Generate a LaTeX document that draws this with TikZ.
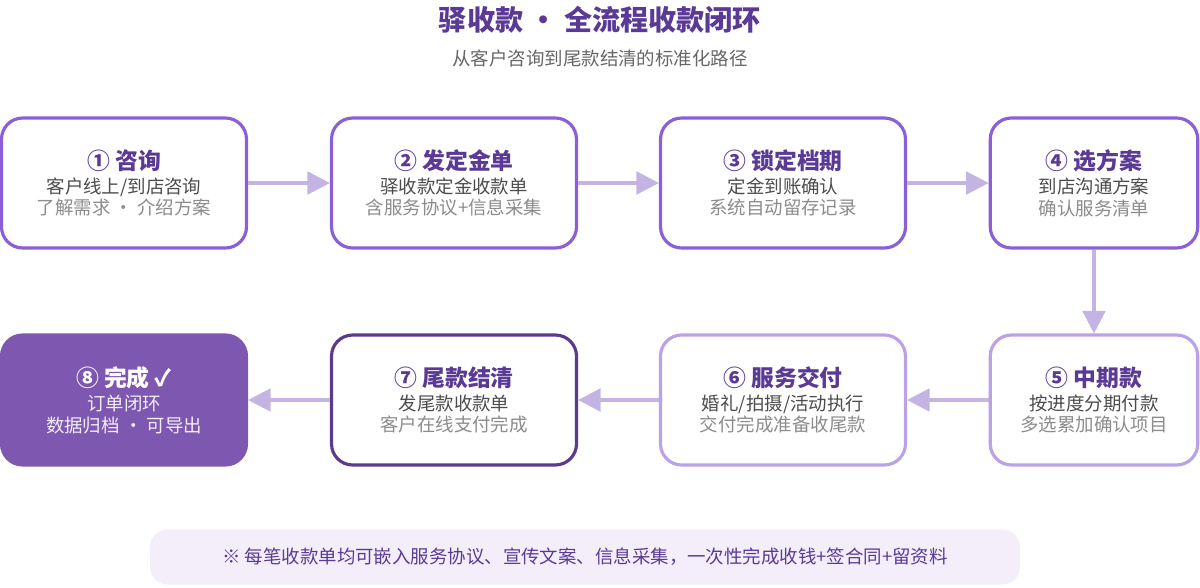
\documentclass[tikz,border=0pt]{standalone}
\usepackage{fontspec}
\setmainfont{Noto Sans CJK SC}
\usetikzlibrary{arrows.meta}
\tikzset{>={Triangle[width=4.5mm,length=4.5mm]}}
\definecolor{Color1}{RGB}{138,95,216}
\definecolor{Color2}{RGB}{185,162,230}
\definecolor{Color3}{RGB}{91,58,143}
\definecolor{Fill8}{RGB}{126,87,176}
\definecolor{ArrowC}{RGB}{196,180,227}
\definecolor{TitleC}{RGB}{91,58,150}
\definecolor{NoteBg}{RGB}{243,238,250}
\tikzset{
  stage/.style={draw=Color1,line width=1.8pt,rounded corners=12pt,fill=white,minimum width=4.9cm,minimum height=2.6cm,align=center},
  flow/.style={->,draw=ArrowC,line width=2pt}
}
\newcommand{\stagetext}[4]{{\textcolor{#4}{\fontsize{13}{18}\selectfont\bfseries #1}}\\[2pt]{\fontsize{10.5}{15}\selectfont\textcolor{black!70}{#2}}\\{\fontsize{10.5}{15}\selectfont\textcolor{black!45}{#3}}}
\begin{document}
\begin{tikzpicture}[x=0.02cm,y=-0.02cm]
		% border
		\useasboundingbox (0,0) rectangle (1200,588);
		% title
		\node[font=\fontsize{16}{20}\selectfont\bfseries,text=TitleC] (title) at (600,20) {驿收款 · 全流程收款闭环};
		\node[font=\fontsize{10.5}{14}\selectfont,text=black!60] (sub) at (600,58) {从客户咨询到尾款结清的标准化路径};

		% top row
		\node[stage] (s1) at (124,183) {\stagetext{① 咨询}{客户线上/到店咨询}{了解需求 · 介绍方案}{TitleC}};
		\node[stage] (s2) at (454,183) {\stagetext{② 发定金单}{驿收款定金收款单}{含服务协议+信息采集}{TitleC}};
		\node[stage] (s3) at (783,183) {\stagetext{③ 锁定档期}{定金到账确认}{系统自动留存记录}{TitleC}};
		\node[stage,minimum width=4.15cm] (s4) at (1094,183) {\stagetext{④ 选方案}{到店沟通方案}{确认服务清单}{TitleC}};

		% bottom row
		\node[stage,draw=Color2,minimum width=4.15cm] (s5) at (1094,400) {\stagetext{⑤ 中期款}{按进度分期付款}{多选累加确认项目}{TitleC}};
		\node[stage,draw=Color2] (s6) at (783,400) {\stagetext{⑥ 服务交付}{婚礼/拍摄/活动执行}{交付完成准备收尾款}{TitleC}};
		\node[stage,draw=Color3] (s7) at (454,400) {\stagetext{⑦ 尾款结清}{发尾款收款单}{客户在线支付完成}{TitleC}};
		\node[stage,draw=Fill8,fill=Fill8] (s8) at (124,400) {{\fontsize{13}{18}\selectfont\bfseries\textcolor{white}{⑧ 完成 ✓}}\\[2pt]{\fontsize{10.5}{15}\selectfont\textcolor{white!90!Fill8}{订单闭环}}\\{\fontsize{10.5}{15}\selectfont\textcolor{white!90!Fill8}{数据归档 · 可导出}}};

		% connectors
		\draw[flow] (s1) -- (s2);
		\draw[flow] (s2) -- (s3);
		\draw[flow] (s3) -- (s4);
		\draw[flow] (s4) -- (s5);
		\draw[flow] (s5) -- (s6);
		\draw[flow] (s6) -- (s7);
		\draw[flow] (s7) -- (s8);

		% note
		\node[fill=NoteBg,rounded corners=10pt,minimum width=17.4cm,minimum height=1.1cm,font=\fontsize{10.5}{14}\selectfont,text=TitleC] (note) at (585,557) {※ 每笔收款单均可嵌入服务协议、宣传文案、信息采集，一次性完成收钱+签合同+留资料};
	\end{tikzpicture}
\end{document}
